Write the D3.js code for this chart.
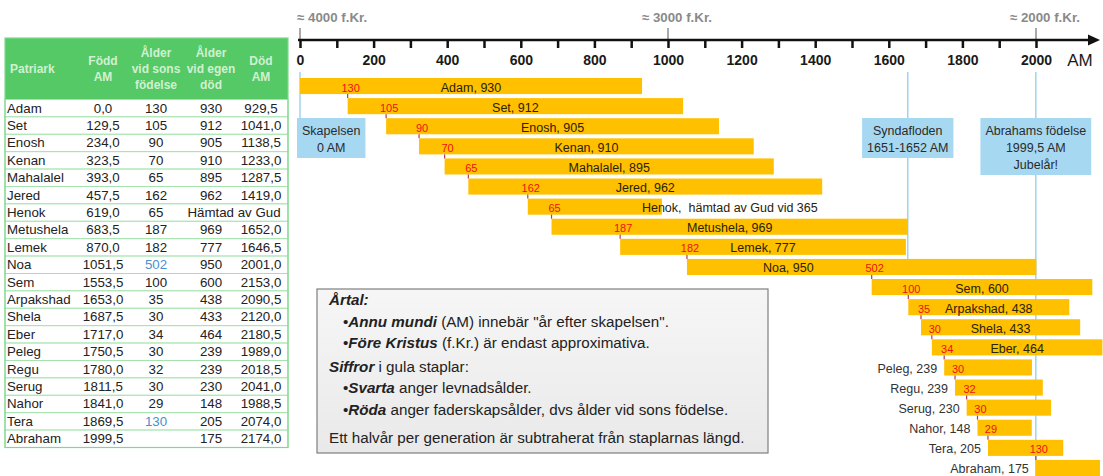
<!DOCTYPE html>
<html>
<head>
<meta charset="utf-8">
<script src="https://cdn.jsdelivr.net/npm/d3@7"></script>
<style>
    body { margin: 0; background: #fff; }
    svg text { font-family: "Liberation Sans", Arial, sans-serif; }
</style>
</head>
<body>
<script>
    // patriarker, födda (AM), ålder vid sons födelse, levnadsålder, död (AM)
    var patriarchs = ["Adam", "Set", "Enosh", "Kenan", "Mahalalel", "Jered", "Henok", "Metushela", "Lemek", "Noa",
        "Sem", "Arpakshad", "Shela", "Eber", "Peleg", "Regu", "Serug", "Nahor", "Tera", "Abraham"];
    var born = [0, 129.5, 234, 323.5, 393, 457.5, 619, 683.5, 870, 1051.5,
        1553.5, 1653, 1687.5, 1717, 1750.5, 1780, 1811.5, 1841, 1869.5, 1999.5];
    var fatherAge = [130, 105, 90, 70, 65, 162, 65, 187, 182, 502, 100, 35, 30, 34, 30, 32, 30, 29, 130, null];
    var lifeAge = [930, 912, 905, 910, 895, 962, 365, 969, 777, 950, 600, 438, 433, 464, 239, 239, 230, 148, 205, 175];
    var died = [929.5, 1041, 1138.5, 1233, 1287.5, 1419, null, 1652, 1646.5, 2001,
        2153, 2090.5, 2120, 2180.5, 1989, 2018.5, 2041, 1988.5, 2074, 2174];
    var blueAges = ["Noa", "Tera"];

    var eventLabels = [["Skapelsen", "0 AM"], ["Syndafloden", "1651-1652 AM"], ["Abrahams födelse", "1999,5 AM", "Jubelår!"]];
    var eventYears = [0, 1651.5, 1999.5];
    var eraLabels = ["≈ 4000 f.Kr.", "≈ 3000 f.Kr.", "≈ 2000 f.Kr."];
    var eraYears = [0, 1000, 2000];

    var headers = [["Patriark"], ["Född", "AM"], ["Ålder", "vid sons", "födelse"], ["Ålder", "vid egen", "död"], ["Död", "AM"]];

    var notes = [
        [{ t: "Årtal:", b: true }],
        [{ t: "•", b: false }, { t: "Annu mundi", b: true }, { t: " (AM) innebär \"år efter skapelsen\".", b: false }],
        [{ t: "•", b: false }, { t: "Före Kristus", b: true }, { t: " (f.Kr.) är endast approximativa.", b: false }],
        [{ t: "Siffror", b: true }, { t: " i gula staplar:", b: false }],
        [{ t: "•", b: false }, { t: "Svarta", b: true }, { t: " anger levnadsålder.", b: false }],
        [{ t: "•", b: false }, { t: "Röda", b: true }, { t: " anger faderskapsålder, dvs ålder vid sons födelse.", b: false }],
        [{ t: "Ett halvår per generation är subtraherat från staplarnas längd.", b: false }]
    ];

    var rows = patriarchs.map(function (name, i) {
        return {
            name: name, i: i, born: born[i], father: fatherAge[i], age: lifeAge[i], died: died[i],
            end: died[i] != null ? died[i] : born[i] + lifeAge[i] - 0.5,
            son: i < patriarchs.length - 1 ? born[i + 1] : null
        };
    });

    var width = 1103, height = 476;
    var svg = d3.select("body").append("svg")
        .attr("width", width)
        .attr("height", height);

    var x = d3.scaleLinear().domain([0, 2000]).range([300, 1036]);
    var y = d3.scaleBand().domain(patriarchs).range([78, 476]).paddingInner(0.2).paddingOuter(0);
    var step = y.step();

    var fmt = function (v) { return d3.format(".1f")(v).replace(".", ","); };

    // ---------- tabell ----------
    var table = svg.append("g");
    var colX = [7, 103, 156, 211, 261];
    var ty = d3.scaleBand().domain(patriarchs).range([99.5, 447.5]);

    table.append("rect")
        .attr("x", 5).attr("y", 38).attr("width", 283).attr("height", 61.5)
        .attr("fill", "#55c965");

    headers.forEach(function (lines, c) {
        var n = lines.length;
        var t = table.append("text")
            .attr("text-anchor", c === 0 ? "start" : "middle")
            .attr("font-size", 12)
            .attr("font-weight", "bold")
            .attr("fill", "#f2fcef")
            .attr("fill-opacity", 0.8);
        lines.forEach(function (l, k) {
            t.append("tspan")
                .attr("x", colX[c] + (c === 0 ? 3 : 0))
                .attr("y", 73 - (n - 1) * 8 + k * 16)
                .text(l);
        });
    });

    var trow = table.selectAll("g.row").data(rows).enter().append("g")
        .attr("transform", function (d) { return "translate(0," + ty(d.name) + ")"; });

    trow.append("rect")
        .attr("x", 5).attr("width", 283).attr("height", ty.bandwidth())
        .attr("fill", "#fff").attr("stroke", "#a4e3ad").attr("stroke-width", 1);

    var tbase = ty.bandwidth() / 2 + 4.5;
    var fs = 13.3;
    trow.append("text").attr("x", colX[0]).attr("y", tbase).attr("font-size", fs)
        .attr("fill", "#222").text(function (d) { return d.name; });
    trow.append("text").attr("x", colX[1]).attr("y", tbase).attr("font-size", fs)
        .attr("text-anchor", "middle").attr("fill", "#222").text(function (d) { return fmt(d.born); });
    trow.append("text").attr("x", colX[2]).attr("y", tbase).attr("font-size", fs)
        .attr("text-anchor", "middle")
        .attr("fill", function (d) { return blueAges.indexOf(d.name) >= 0 ? "#4a8fcf" : "#222"; })
        .text(function (d) { return d.father != null ? d.father : ""; });
    trow.append("text").attr("x", function (d) { return d.died == null ? 234 : colX[3]; })
        .attr("y", tbase).attr("font-size", fs)
        .attr("text-anchor", "middle").attr("fill", "#222")
        .text(function (d) { return d.died == null ? "Hämtad av Gud" : d.age; });
    trow.append("text").attr("x", colX[4]).attr("y", tbase).attr("font-size", fs)
        .attr("text-anchor", "middle").attr("fill", "#222")
        .text(function (d) { return d.died == null ? "" : fmt(d.died); });

    table.append("rect")
        .attr("x", 5).attr("y", 38).attr("width", 283).attr("height", 447.5 - 38)
        .attr("fill", "none").attr("stroke", "#7fd88d").attr("stroke-width", 1.2);

    // ---------- blå händelselinjer ----------
    var lineEnds = [null, y("Noa"), height];
    var events = eventYears.map(function (yr, i) {
        return { year: yr, label: eventLabels[i], end: lineEnds[i] };
    });

    var evG = svg.append("g");
    var boxes = evG.selectAll("g").data(events).enter().append("g");
    var boxTop = 118;

    boxes.each(function (d) {
        var g = d3.select(this);
        g.append("line")
            .attr("x1", x(d.year)).attr("x2", x(d.year))
            .attr("y1", 72)
            .attr("y2", d.end == null ? boxTop : d.end)
            .attr("stroke", "#9fd3ee").attr("stroke-width", 1.5);
        var t = g.append("text").attr("text-anchor", "middle").attr("font-size", 12.5).attr("fill", "#2b2b2b");
        d.label.forEach(function (l, k) {
            t.append("tspan").attr("x", 0).attr("y", boxTop + 17 + k * 17).text(l);
        });
        var bb = t.node().getBBox();
        var w = bb.width + 10;
        var h = d.label.length * 17 + 6;
        var cx = Math.max(x(d.year), 297 + w / 2);
        t.selectAll("tspan").attr("x", cx);
        g.insert("rect", "text")
            .attr("x", cx - w / 2).attr("y", boxTop)
            .attr("width", w).attr("height", h)
            .attr("fill", "#a6d8f1");
    });

    // ---------- staplar ----------
    var barG = svg.append("g");
    var bars = barG.selectAll("g").data(rows).enter().append("g")
        .attr("transform", function (d) { return "translate(0," + y(d.name) + ")"; });

    bars.append("rect")
        .attr("x", function (d) { return x(d.born); })
        .attr("width", function (d) { return x(d.end) - x(d.born); })
        .attr("height", y.bandwidth())
        .attr("fill", "#ffc000");

    // röda markeringar vid sonens födelse
    bars.filter(function (d) { return d.son != null; }).append("line")
        .attr("x1", function (d) { return x(d.son); })
        .attr("x2", function (d) { return x(d.son); })
        .attr("y1", y.bandwidth())
        .attr("y2", step)
        .attr("stroke", "#b3345c").attr("stroke-width", 1.2);

    bars.filter(function (d) { return d.father != null; }).append("text")
        .attr("x", function (d) { return x(d.son) + 3; })
        .attr("y", 13.5)
        .attr("text-anchor", "middle")
        .attr("font-size", 11)
        .attr("fill", "#ee1111")
        .text(function (d) { return d.father; });

    // namnetiketter
    bars.append("text")
        .attr("y", 13.5)
        .attr("font-size", 12.5)
        .attr("fill", "#2a2200")
        .each(function (d) {
            var t = d3.select(this);
            if (d.died == null) {
                t.attr("x", x(d.end) - 20).attr("text-anchor", "start")
                    .attr("xml:space", "preserve")
                    .text(d.name + ",  hämtad av Gud vid " + d.age);
            } else if (d.age < 300) {
                t.attr("x", x(d.born) - 7).attr("text-anchor", "end").attr("fill", "#333")
                    .text(d.name + ", " + d.age);
            } else if (d.name === "Noa") {
                t.attr("x", x(d.born + d.father / 2) + 9).attr("text-anchor", "middle")
                    .text(d.name + ", " + d.age);
            } else {
                t.attr("x", (x(d.born) + x(d.end)) / 2).attr("text-anchor", "middle")
                    .text(d.name + ", " + d.age);
            }
        });

    // ---------- tidsaxel ----------
    var axisY = 40;
    var axisG = svg.append("g").attr("transform", "translate(0," + axisY + ")");

    axisG.selectAll("line.major").data(eraYears).enter().append("line")
        .attr("x1", function (d) { return x(d); }).attr("x2", function (d) { return x(d); })
        .attr("y1", -12).attr("y2", 0)
        .attr("stroke", "#8c8c8c").attr("stroke-width", 1.5);

    var axis = d3.axisBottom(x)
        .tickValues(d3.range(0, 2001, 100))
        .tickSize(8)
        .tickFormat(function (d) { return d % 200 === 0 ? d : ""; });
    axisG.call(axis);
    axisG.select(".domain").remove();
    axisG.selectAll(".tick line").attr("stroke", "#111").attr("stroke-width", 2.5);
    axisG.selectAll(".tick text")
        .attr("y", 15)
        .attr("font-size", 14)
        .attr("font-weight", "bold")
        .attr("font-family", "\"Liberation Sans\", Arial, sans-serif")
        .attr("fill", "#1a1a1a");

    axisG.append("line")
        .attr("x1", x(0) - 2).attr("x2", 1090)
        .attr("y1", 0).attr("y2", 0)
        .attr("stroke", "#111").attr("stroke-width", 2.5);
    axisG.append("path")
        .attr("d", "M1088,-5.5L1100,0L1088,5.5Z")
        .attr("fill", "#111");

    axisG.append("text")
        .attr("x", 1080).attr("y", 26)
        .attr("text-anchor", "middle")
        .attr("font-size", 17)
        .attr("fill", "#1a1a1a")
        .text("AM");

    svg.append("g").selectAll("text").data(eraYears).enter().append("text")
        .attr("x", function (d, i) { return i === 0 ? x(d) - 3 : x(d) + 9; })
        .attr("y", 22)
        .attr("text-anchor", function (d, i) { return i === 0 ? "start" : "middle"; })
        .attr("font-size", 13.3)
        .attr("font-weight", "bold")
        .attr("fill", "#8a8a8a")
        .text(function (d, i) { return eraLabels[i]; });

    // ---------- förklaringsruta ----------
    var defs = svg.append("defs");
    var grad = defs.append("linearGradient").attr("id", "noteGrad")
        .attr("x1", 0).attr("y1", 0).attr("x2", 0).attr("y2", 1);
    grad.append("stop").attr("offset", "0%").attr("stop-color", "#f6f6f6");
    grad.append("stop").attr("offset", "100%").attr("stop-color", "#e9e9e9");

    var note = svg.append("g");
    note.append("rect")
        .attr("x", 317).attr("y", 289).attr("width", 451).attr("height", 164)
        .attr("fill", "url(#noteGrad)")
        .attr("stroke", "#7f7f7f").attr("stroke-width", 1.2);

    var noteY = [305, 327, 348, 372, 393, 415, 443];
    var noteX = [329, 343, 343, 329, 343, 343, 329];
    notes.forEach(function (segs, i) {
        var t = note.append("text")
            .attr("x", noteX[i]).attr("y", noteY[i])
            .attr("font-size", 15.2)
            .attr("fill", "#222");
        segs.forEach(function (s) {
            t.append("tspan")
                .attr("font-weight", s.b ? "bold" : "normal")
                .attr("font-style", s.b ? "italic" : "normal")
                .text(s.t);
        });
    });
</script>
</body>
</html>
